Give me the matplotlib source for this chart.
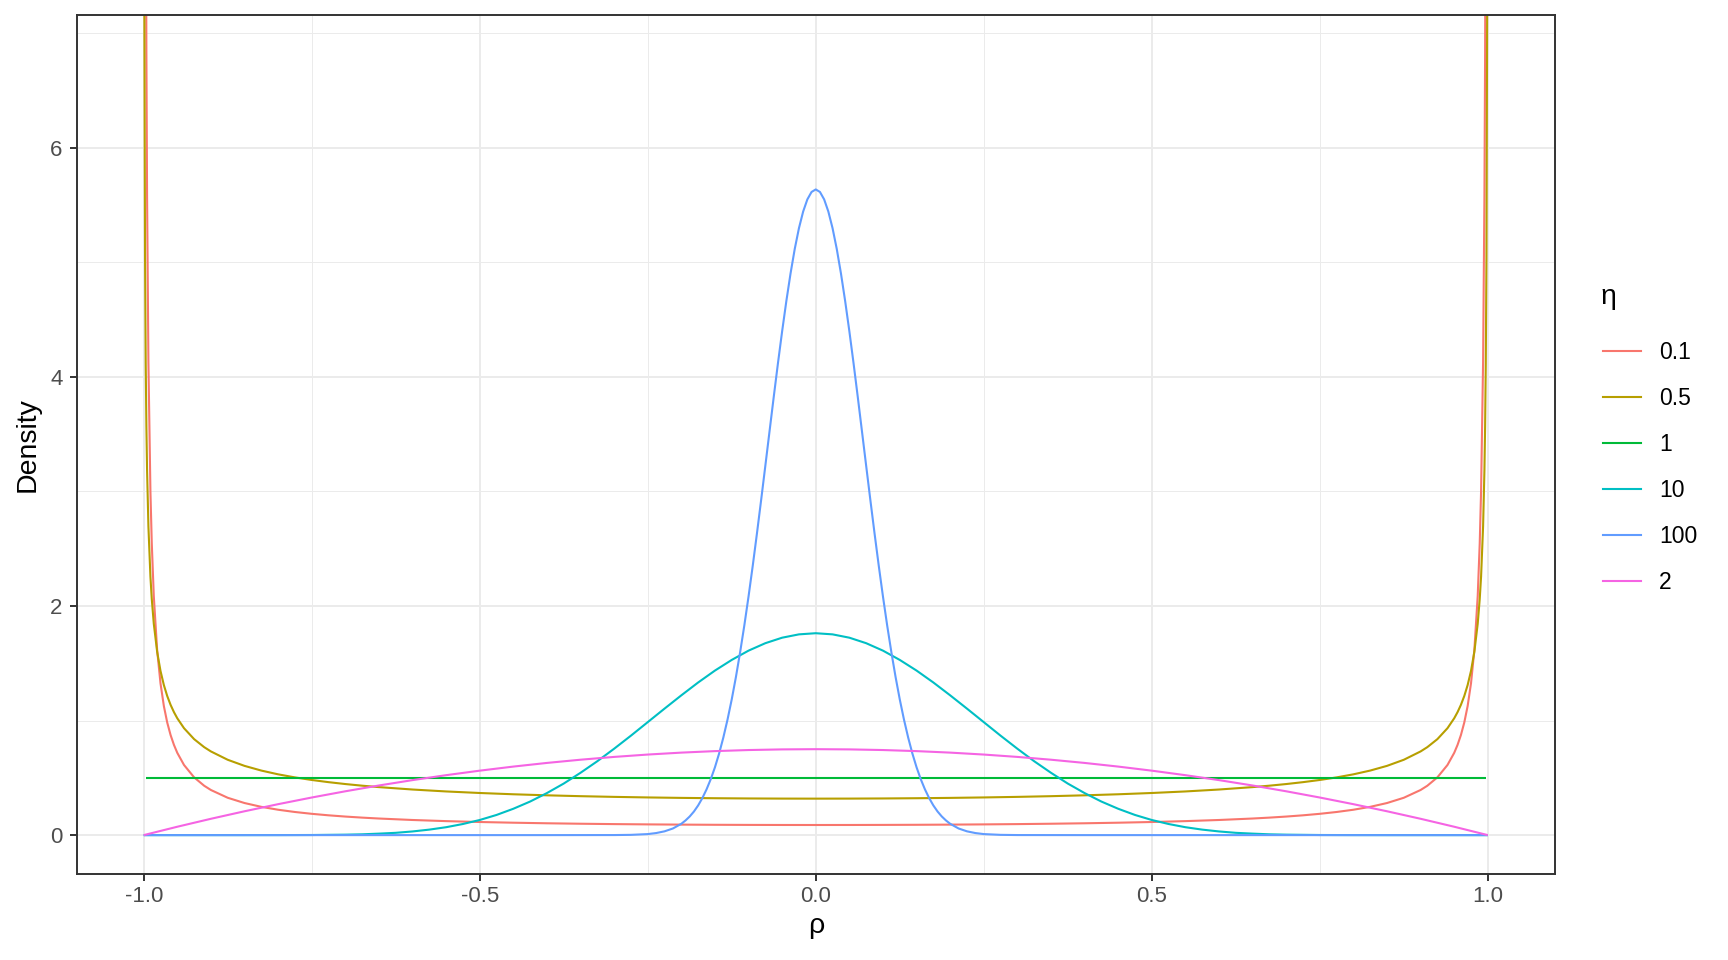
import numpy as np
import matplotlib.pyplot as plt
from matplotlib.lines import Line2D

plt.rcParams['font.family'] = ['Liberation Sans', 'DejaVu Sans']

# eta = 0.1 and 0.5 (steep near +-1, so finer near the edges)
rho_u = [-0.9995, -0.999, -0.998, -0.997, -0.996, -0.995, -0.993, -0.99, -0.988, -0.985, -0.98,
         -0.975, -0.97, -0.965, -0.96, -0.955, -0.95, -0.94, -0.925, -0.91, -0.9, -0.875, -0.85,
         -0.825, -0.8, -0.775, -0.75, -0.725, -0.7, -0.675, -0.65, -0.6, -0.55, -0.5, -0.45, -0.4,
         -0.35, -0.3, -0.25, -0.2, -0.15, -0.1, -0.05, 0.0,
         0.05, 0.1, 0.15, 0.2, 0.25, 0.3, 0.35, 0.4, 0.45, 0.5, 0.55, 0.6, 0.65, 0.675, 0.7,
         0.725, 0.75, 0.775, 0.8, 0.825, 0.85, 0.875, 0.9, 0.91, 0.925, 0.94, 0.95, 0.955, 0.96,
         0.965, 0.97, 0.975, 0.98, 0.985, 0.988, 0.99, 0.993, 0.995, 0.996, 0.997, 0.998, 0.999, 0.9995]
dens_01 = [44.2, 23.7, 12.72, 8.838, 6.824, 5.585, 4.131, 2.9995, 2.548, 2.087, 1.615,
           1.3239, 1.1263, 0.9825, 0.8733, 0.7874, 0.7177, 0.6119, 0.5041, 0.4308, 0.3937, 0.3259, 0.2800,
           0.2467, 0.2215, 0.2018, 0.1859, 0.1728, 0.1619, 0.1527, 0.1448, 0.1320, 0.1221, 0.1144, 0.1083, 0.1033,
           0.0993, 0.0961, 0.0936, 0.0916, 0.0901, 0.0891, 0.0885, 0.0883,
           0.0885, 0.0891, 0.0901, 0.0916, 0.0936, 0.0961, 0.0993, 0.1033, 0.1083, 0.1144, 0.1221, 0.1320, 0.1448, 0.1527, 0.1619,
           0.1728, 0.1859, 0.2018, 0.2215, 0.2467, 0.2800, 0.3259, 0.3937, 0.4308, 0.5041, 0.6119, 0.7177, 0.7874, 0.8733,
           0.9825, 1.1263, 1.3239, 1.615, 2.087, 2.548, 2.9995, 4.131, 5.585, 6.824, 8.838, 12.72, 23.7, 44.2]
dens_05 = [10.07, 7.119, 5.036, 4.112, 3.562, 3.187, 2.695, 2.256, 2.061, 1.845, 1.600,
           1.4325, 1.3094, 1.2138, 1.1368, 1.0733, 1.0194, 0.9330, 0.8377, 0.7677, 0.7303, 0.6575, 0.6043,
           0.5633, 0.5305, 0.5037, 0.4812, 0.4622, 0.4457, 0.4314, 0.4189, 0.3979, 0.3811, 0.3676, 0.3564, 0.3473,
           0.3398, 0.3337, 0.3288, 0.3249, 0.3220, 0.3199, 0.3187, 0.3183,
           0.3187, 0.3199, 0.3220, 0.3249, 0.3288, 0.3337, 0.3398, 0.3473, 0.3564, 0.3676, 0.3811, 0.3979, 0.4189, 0.4314, 0.4457,
           0.4622, 0.4812, 0.5037, 0.5305, 0.5633, 0.6043, 0.6575, 0.7303, 0.7677, 0.8377, 0.9330, 1.0194, 1.0733, 1.1368,
           1.2138, 1.3094, 1.4325, 1.600, 1.845, 2.061, 2.256, 2.695, 3.187, 3.562, 4.112, 5.036, 7.119, 10.07]

# eta = 1
rho_1 = [-0.997, 0.997]
dens_1 = [0.5, 0.5]

# eta = 2
rho_2 = [-1.0, -0.95, -0.9, -0.85, -0.8, -0.75, -0.7, -0.65, -0.6, -0.55, -0.5, -0.45, -0.4,
         -0.35, -0.3, -0.25, -0.2, -0.15, -0.1, -0.05, 0.0, 0.05, 0.1, 0.15, 0.2, 0.25, 0.3,
         0.35, 0.4, 0.45, 0.5, 0.55, 0.6, 0.65, 0.7, 0.75, 0.8, 0.85, 0.9, 0.95, 1.0]
dens_2 = [0.0, 0.0731, 0.1425, 0.2081, 0.27, 0.3281, 0.3825, 0.4331, 0.48, 0.5231, 0.5625, 0.5981, 0.63,
          0.6581, 0.6825, 0.7031, 0.72, 0.7331, 0.7425, 0.7481, 0.75, 0.7481, 0.7425, 0.7331, 0.72, 0.7031, 0.6825,
          0.6581, 0.63, 0.5981, 0.5625, 0.5231, 0.48, 0.4331, 0.3825, 0.3281, 0.27, 0.2081, 0.1425, 0.0731, 0.0]

# eta = 10
rho_10 = [-1.0, -0.95, -0.9, -0.85, -0.8, -0.75, -0.7, -0.675, -0.65, -0.625, -0.6, -0.575, -0.55,
          -0.525, -0.5, -0.475, -0.45, -0.425, -0.4, -0.375, -0.35, -0.325, -0.3, -0.275, -0.25,
          -0.225, -0.2, -0.175, -0.15, -0.125, -0.1, -0.075, -0.05, -0.025, 0.0,
          0.025, 0.05, 0.075, 0.1, 0.125, 0.15, 0.175, 0.2, 0.225, 0.25, 0.275, 0.3, 0.325, 0.35,
          0.375, 0.4, 0.425, 0.45, 0.475, 0.5, 0.525, 0.55, 0.575, 0.6, 0.625, 0.65, 0.675, 0.7,
          0.75, 0.8, 0.85, 0.9, 0.95, 1.0]
dens_10 = [0.0, 0.0, 0.0, 0.0, 0.0002, 0.001, 0.004, 0.007, 0.013, 0.020, 0.032, 0.048, 0.069,
           0.097, 0.132, 0.176, 0.230, 0.293, 0.367, 0.450, 0.544, 0.645, 0.754, 0.868, 0.986,
           1.104, 1.220, 1.332, 1.436, 1.529, 1.610, 1.675, 1.723, 1.752, 1.762,
           1.752, 1.723, 1.675, 1.610, 1.529, 1.436, 1.332, 1.220, 1.104, 0.986, 0.868, 0.754, 0.645, 0.544,
           0.450, 0.367, 0.293, 0.230, 0.176, 0.132, 0.097, 0.069, 0.048, 0.032, 0.020, 0.013, 0.007, 0.004,
           0.001, 0.0002, 0.0, 0.0, 0.0, 0.0]

# eta = 100
rho_100 = [-1.0, -0.8, -0.6, -0.4, -0.3, -0.275, -0.25, -0.2375, -0.225, -0.2125, -0.2,
           -0.19375, -0.1875, -0.18125, -0.175, -0.16875, -0.1625, -0.15625, -0.15, -0.14375,
           -0.1375, -0.13125, -0.125, -0.11875, -0.1125, -0.10625, -0.1, -0.09375, -0.0875,
           -0.08125, -0.075, -0.06875, -0.0625, -0.05625, -0.05, -0.04375, -0.0375, -0.03125,
           -0.025, -0.01875, -0.0125, -0.00625, 0.0,
           0.00625, 0.0125, 0.01875, 0.025, 0.03125, 0.0375, 0.04375, 0.05, 0.05625, 0.0625,
           0.06875, 0.075, 0.08125, 0.0875, 0.09375, 0.1, 0.10625, 0.1125, 0.11875, 0.125,
           0.13125, 0.1375, 0.14375, 0.15, 0.15625, 0.1625, 0.16875, 0.175, 0.18125, 0.1875,
           0.19375, 0.2, 0.2125, 0.225, 0.2375, 0.25, 0.275, 0.3, 0.4, 0.6, 0.8, 1.0]
dens_100 = [0.0, 0.0, 0.0, 0.0, 0.0005, 0.0023, 0.009, 0.018, 0.033, 0.058, 0.099,
            0.128, 0.163, 0.206, 0.259, 0.323, 0.399, 0.488, 0.592, 0.713,
            0.852, 1.009, 1.185, 1.381, 1.597, 1.831, 2.083, 2.351, 2.633,
            2.925, 3.224, 3.525, 3.825, 4.118, 4.398, 4.661, 4.902, 5.116,
            5.297, 5.442, 5.548, 5.613, 5.635,
            5.613, 5.548, 5.442, 5.297, 5.116, 4.902, 4.661, 4.398, 4.118, 3.825,
            3.525, 3.224, 2.925, 2.633, 2.351, 2.083, 1.831, 1.597, 1.381, 1.185,
            1.009, 0.852, 0.713, 0.592, 0.488, 0.399, 0.323, 0.259, 0.206, 0.163,
            0.128, 0.099, 0.058, 0.033, 0.018, 0.009, 0.0023, 0.0005, 0.0, 0.0, 0.0, 0.0]

labels = ["0.1", "0.5", "1", "10", "100", "2"]
colors = ["#F8766D", "#B79F00", "#00BA38", "#00BFC4", "#619CFF", "#F564E3"]
series = [(rho_u, dens_01), (rho_u, dens_05), (rho_1, dens_1),
          (rho_10, dens_10), (rho_100, dens_100), (rho_2, dens_2)]

fig = plt.figure(figsize=(17.28, 9.6), dpi=100)
ax = fig.add_axes([76.5 / 1728, 1 - 873.5 / 960, (1555 - 76.5) / 1728, (873.5 - 14.7) / 960])

for (x, y), lab, col in zip(series, labels, colors):
    ax.plot(x, y, color=col, lw=1.5, label=lab, solid_capstyle='butt')

ax.set_xlim(-1.1, 1.1)
ax.set_ylim(-0.335, 7.16)
ax.set_xticks([-1.0, -0.5, 0.0, 0.5, 1.0])
ax.set_xticklabels(["-1.0", "-0.5", "0.0", "0.5", "1.0"])
ax.set_yticks([0, 2, 4, 6])
ax.set_xticks([-0.75, -0.25, 0.25, 0.75], minor=True)
ax.set_yticks([1, 3, 5, 7], minor=True)

ax.grid(True, which='major', color='#EBEBEB', lw=1.4)
ax.grid(True, which='minor', color='#EBEBEB', lw=0.7)
ax.set_axisbelow(True)
for s in ax.spines.values():
    s.set_color('#333333')
    s.set_linewidth(1.4)
ax.tick_params(which='major', length=5, width=1.4, color='#333333',
               labelsize=16, labelcolor='#4D4D4D')
ax.tick_params(axis='x', pad=4)
ax.tick_params(axis='y', pad=5)
ax.tick_params(which='minor', length=0)

ax.set_xlabel("ρ", fontsize=20.5, labelpad=4)
ax.set_ylabel("Density", fontsize=20.5, labelpad=7)

# legend title placed on its own, entries below
fig.text(1600 / 1728, 1 - 297.5 / 960, "η", fontsize=20.5, ha='left', va='center')
handles = [Line2D([], [], color=c, lw=1.5) for c in colors]
leg = ax.legend(handles, labels, loc='upper left',
                bbox_to_anchor=(1603 / 1728, 1 - 341 / 960), bbox_transform=fig.transFigure,
                frameon=False, fontsize=16.5, handlelength=1.65,
                handletextpad=0.8, labelspacing=1.0, borderpad=0, borderaxespad=0)

fig.savefig("out.png", dpi=100)
